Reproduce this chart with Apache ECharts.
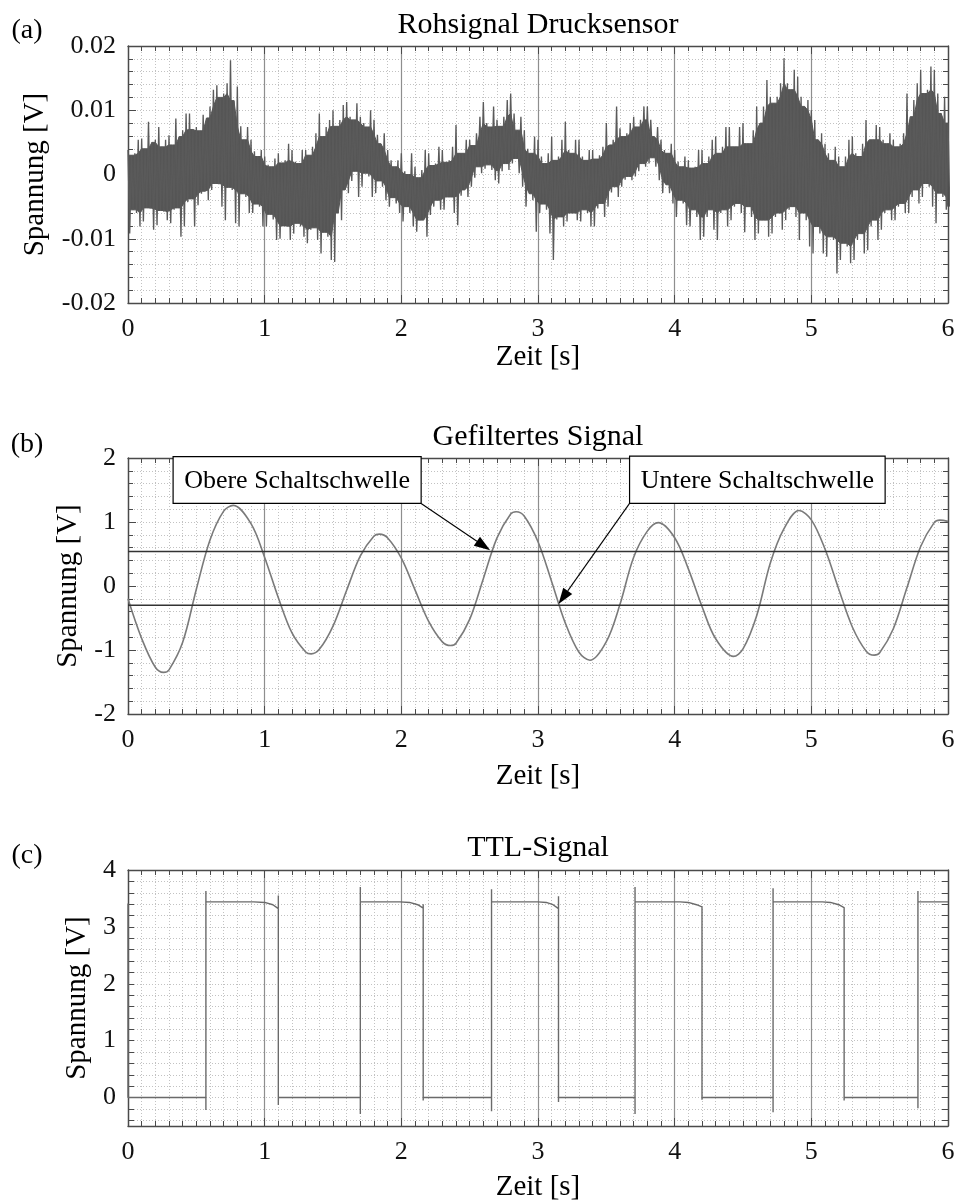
<!DOCTYPE html>
<html><head><meta charset="utf-8">
<script src="https://cdn.jsdelivr.net/npm/echarts@6/dist/echarts.min.js"></script>
<style>html,body{margin:0;padding:0;background:#fff}#c{width:957px;height:1201px}</style>
</head><body><div id="c"></div>
<script>
// ---------------- data ----------------
// (a) raw pressure sensor signal: envelope samples (mV), one every rawStep seconds
const rawStep = 0.025;
const rawUpper = [
3.8,3.0, 3.3,5.4, 5.6,4.0, 8.2,5.0, 5.4,7.4, 4.3,5.4, 6.1,4.6, 8.7,5.9, 6.9,9.5, 9.5,7.0,
7.4,6.8, 9.3,8.8, 10.6,13.2, 13.9,12.0, 12.6,14.2, 17.8,11.5, 13.7,7.5, 5.4,7.4, 5.4,3.6, 2.8,3.8,
2.8,1.5, 1.2,2.5, 3.3,1.8, 2.2,4.8, 3.8,2.0, 1.7,3.8, 3.8,3.0, 4.3,6.4, 9.5,5.9, 7.4,8.5,
10.0,7.5, 8.5,10.8, 11.3,9.0, 8.5,11.1, 9.0,8.0, 7.4,10.0, 8.5,6.2, 4.8,6.4, 3.8,2.2, 1.2,2.2,
3.3,0.5, 0.0,3.3, 1.2,-0.5, 0.7,3.8, 3.3,1.4, 1.7,4.3, 3.8,1.9, 2.2,4.3, 7.7,3.3, 3.3,5.4,
5.4,4.5, 6.4,9.0, 11.3,8.0, 7.4,10.6, 8.5,7.5, 9.0,11.6, 12.6,9.5, 6.9,9.0, 6.9,4.0, 3.3,5.9,
5.4,2.8, 1.7,3.3, 5.9,2.2, 2.8,5.4, 8.2,3.8, 3.3,5.4, 5.4,2.8, 2.2,3.8, 3.8,2.4, 3.0,4.3,
8.0,4.6, 5.4,10.6, 7.2,5.9, 6.4,8.0, 9.0,7.4, 8.5,10.6, 10.6,8.5, 5.9,7.4, 5.4,3.8, 3.3,4.8,
3.8,2.0, 1.2,2.8, 2.2,1.0, 1.2,3.8, 3.8,1.7, 2.8,5.4, 5.9,3.3, 4.3,7.4, 7.4,4.3, 4.3,7.4,
8.0,4.8, 4.8,6.9, 10.6,8.0, 10.6,14.7, 12.1,11.1, 12.1,14.2, 18.1,14.2, 13.2,16.3, 15.2,12.1, 10.6,11.6,
10.0,8.5, 5.4,6.4, 4.8,3.3, 2.2,4.3, 2.8,1.2, 2.8,5.4, 5.9,3.3, 2.8,4.8, 8.5,5.4, 5.4,7.7,
7.4,5.4, 4.8,6.4, 5.4,4.3, 4.8,6.4, 12.6,9.0, 11.6,14.2, 16.3,12.6, 13.2,16.8, 16.3,12.6, 9.5,12.1,
8.0];
const rawLower = [
-9.2,-5.5, -6.0,-8.1, -7.3,-5.2, -5.3,-8.6, -7.9,-5.6, -5.8,-7.1, -7.6,-5.5, -5.2,-9.7, -8.1,-4.3, -3.8,-8.1,
-4.8,-3.0, -2.6,-4.0, -2.4,-1.4, -1.5,-5.0, -7.1,-2.0, -2.4,-7.6, -8.1,-3.0, -3.5,-6.0, -6.0,-4.6, -5.0,-8.1,
-8.1,-6.2, -7.0,-10.2, -10.0,-8.0, -8.1,-10.2, -9.2,-7.6, -8.1,-9.7, -10.7,-8.6, -8.3,-10.2, -12.3,-9.0, -9.7,-13.3,
-13.6,-6.0, -7.1,-2.4, -2.9,-1.0, 0.5,-3.5, -1.9,0.2, -0.3,-3.5, -2.9,-1.0, -1.9,-4.0, -5.0,-3.6, -4.5,-6.0,
-7.3,-5.0, -6.0,-8.1, -8.9,-7.1, -7.1,-9.7, -6.3,-5.0, -4.0,-5.5, -5.5,-3.5, -3.5,-6.0, -7.9,-3.3, -2.4,-3.5,
-1.9,-0.5, 1.2,0.2, 0.9,1.5, 0.7,-0.9, -1.4,0.5, 1.7,0.7, 1.7,2.5, 0.2,-1.9, -5.0,-3.0, -4.0,-8.9,
-6.0,-4.6, -5.5,-9.2, -13.3,-7.0, -6.6,-8.1, -7.3,-6.0, -6.0,-7.1, -7.3,-5.5, -6.0,-8.1, -8.1,-5.3, -4.5,-6.6,
-5.0,-2.8, -1.9,-3.5, -1.9,-0.8, -0.3,-0.9, -0.3,0.5, 1.7,1.2, 1.7,2.6, 1.2,-0.9, -2.9,-1.6, -2.9,-4.5,
-6.6,-4.0, -4.5,-7.9, -8.1,-5.5, -6.6,-10.2, -9.7,-6.6, -5.5,-8.6, -10.2,-6.0, -5.5,-8.1, -7.1,-5.0, -4.5,-6.0,
-9.0,-5.0, -6.6,-10.2, -9.2,-7.1, -7.1,-9.7, -9.2,-6.6, -6.0,-8.6, -7.1,-5.5, -5.0,-6.6, -10.2,-6.0, -7.1,-11.2,
-12.3,-8.1, -9.2,-12.3, -12.8,-9.7, -10.2,-15.4, -13.3,-10.7, -11.2,-13.8, -13.3,-10.2, -9.2,-12.3, -11.8,-8.1, -7.1,-10.2,
-8.6,-6.0, -5.5,-7.1, -7.1,-5.0, -4.5,-6.0, -6.0,-3.5, -2.4,-4.5, -3.5,-1.4, -1.9,-5.0, -7.6,-2.9, -3.5,-5.5,
-5.0];

// (b) filtered signal: read points (s, V)
const filtT = [0, 0.1, 0.2, 0.26, 0.3, 0.4, 0.5, 0.6, 0.7, 0.77, 0.9, 1.0, 1.1, 1.2, 1.3, 1.34, 1.4, 1.5, 1.6, 1.7, 1.8, 1.84, 1.9, 2.0,
  2.1, 2.2, 2.3, 2.36, 2.4, 2.5, 2.6, 2.7, 2.8, 2.84, 2.9, 3.0, 3.1, 3.2, 3.3, 3.38, 3.5, 3.6, 3.7, 3.8, 3.88, 4.0,
  4.1, 4.2, 4.3, 4.43, 4.5, 4.6, 4.7, 4.8, 4.91, 5.0, 5.1, 5.2, 5.3, 5.4, 5.46, 5.5, 5.6, 5.7, 5.8, 5.9, 5.94, 6.0];
const filtV = [-0.2, -0.82, -1.27, -1.35, -1.31, -0.88, -0.05, 0.72, 1.17, 1.26, 0.975, 0.446, -0.184, -0.733, -1.03, -1.06, -0.99, -0.626, -0.066, 0.47, 0.78, 0.81, 0.75, 0.434,
  -0.06, -0.554, -0.873, -0.93, -0.894, -0.521, 0.115, 0.751, 1.124, 1.16, 1.09, 0.692, 0.068, -0.58, -1.036, -1.16, -0.869, -0.286, 0.45, 0.857, 0.99, 0.754,
  0.268, -0.32, -0.825, -1.10, -0.983, -0.464, 0.36, 0.896, 1.18, 1.034, 0.577, -0.046, -0.64, -1.014, -1.08, -1.044, -0.668, -0.025, 0.617, 0.994, 1.03, 1.01];
const thresholds = [0.54, -0.3];
const thresholdNames = ['Obere Schaltschwelle', 'Untere Schaltschwelle'];

// (c) TTL signal: path points (s, V)
const ttlT = [0, 0, 0.57, 0.57, 0.57, 0.57,
  0.92, 1.00, 1.06, 1.10, 1.10, 1.10, 1.10,
  1.70, 1.70, 1.70, 1.70,
  1.99, 2.06, 2.12, 2.16, 2.16, 2.16, 2.16,
  2.66, 2.66, 2.66, 2.66,
  3.00, 3.06, 3.11, 3.15, 3.15, 3.15, 3.15,
  3.71, 3.71, 3.71, 3.71,
  4.04, 4.10, 4.16, 4.20, 4.20, 4.20, 4.20,
  4.72, 4.72, 4.72, 4.72,
  5.08, 5.14, 5.20, 5.24, 5.24, 5.24, 5.24,
  5.78, 5.78, 5.78, 5.78, 6.0];
const ttlV = [3.41, 0, 0, -0.22, 3.63, 3.44,
  3.44, 3.43, 3.39, 3.32, 3.55, -0.13, 0,
  0, -0.29, 3.70, 3.44,
  3.44, 3.43, 3.39, 3.33, 3.40, -0.05, 0,
  0, -0.24, 3.66, 3.44,
  3.44, 3.43, 3.39, 3.32, 3.54, -0.08, 0,
  0, -0.29, 3.70, 3.44,
  3.44, 3.43, 3.39, 3.35, 3.38, -0.04, 0,
  0, -0.26, 3.68, 3.44,
  3.44, 3.43, 3.39, 3.34, 3.36, -0.05, 0,
  0, -0.19, 3.63, 3.44, 3.44];

const panelLetters = ['(a)', '(b)', '(c)'];
const panelTitles = ['Rohsignal Drucksensor', 'Gefiltertes Signal', 'TTL-Signal'];
const xName = 'Zeit [s]';
const yName = 'Spannung [V]';
const cTickValues = [-0.4,-0.2,0,0.2,0.4,0.6,0.8,1,1.2,1.4,1.6,1.8,2,2.2,2.4,2.6,2.8,3,3.2,3.4,3.6,3.8,4];
const cLabelValues = [0, 1, 2, 3, 4];

// ---------------- build ----------------
const FONT = '"Liberation Serif","Times New Roman",serif';
const AX = '#4a4a4a';
const DOT = {color: '#c2c2c2', type: [1, 2], width: 1};
const RAW_COLOR = '#555555';

const rawZig = [];
for (let i = 0; i < rawUpper.length; i++) {
  const t = i * rawStep, h = rawStep / 2;
  rawZig.push([t, rawUpper[i] / 1000], [t + h, rawLower[i] / 1000]);
}
const filtData = filtT.map((t, i) => [t, filtV[i]]);
const ttlData = ttlT.map((t, i) => [t, ttlV[i]]);

const grids = [
  {left: 128, top: 46, width: 820, height: 257},
  {left: 128, top: 458, width: 820, height: 256},
  {left: 128, top: 870, width: 820, height: 256}
];

const xAxis = [], yAxis = [];
grids.forEach((g, gi) => {
  const base = {
    type: 'value', gridIndex: gi, min: 0, max: 6, interval: 1,
    axisLine: {show: true, onZero: false, lineStyle: {color: AX, width: 1.4}},
    axisTick: {show: true, inside: true, length: 8, lineStyle: {color: AX, width: 1}},
    minorTick: {show: true, splitNumber: 10, length: 5, lineStyle: {color: AX, width: 1}}
  };
  xAxis.push(Object.assign({}, base, {
    position: 'bottom',
    axisLabel: {show: true, margin: 13, fontFamily: FONT, fontSize: 26, color: '#111', formatter: v => String(Math.round(v))},
    splitLine: {show: true, lineStyle: {color: '#8e8e8e', width: 1.2}},
    minorSplitLine: {show: true, lineStyle: DOT}
  }));
  xAxis.push(Object.assign({}, base, {
    position: 'top', axisLabel: {show: false}, splitLine: {show: false}, minorSplitLine: {show: false}
  }));
});

function yPair(gi, cfg) {
  const common = {
    type: 'value', gridIndex: gi,
    axisLine: {show: true, onZero: false, lineStyle: {color: AX, width: 1.4}}
  };
  const tick = Object.assign({show: true, inside: true, length: cfg.tickLen || 8, lineStyle: {color: AX}}, cfg.tickExtra || {});
  const minor = cfg.minor ? {show: true, splitNumber: cfg.minor, length: 5, lineStyle: {color: AX}} : {show: false};
  yAxis.push(Object.assign({}, common, cfg.scale, {
    position: 'left', axisTick: tick, minorTick: minor,
    axisLabel: Object.assign({show: true, margin: 12, fontFamily: FONT, fontSize: 26, color: '#111', formatter: cfg.fmt}, cfg.labelExtra || {}),
    splitLine: {show: true, lineStyle: DOT},
    minorSplitLine: cfg.minor ? {show: true, lineStyle: DOT} : {show: false}
  }));
  yAxis.push(Object.assign({}, common, cfg.scale, {
    position: 'right', axisTick: tick, minorTick: minor,
    axisLabel: {show: false}, splitLine: {show: false}, minorSplitLine: {show: false}
  }));
}
yPair(0, {scale: {min: -0.02, max: 0.02, interval: 0.01}, minor: 5,
  fmt: v => (Math.abs(v) < 1e-9 ? '0' : v.toFixed(2))});
yPair(1, {scale: {min: -2, max: 2, interval: 1}, minor: 5,
  fmt: v => String(Math.round(v))});
yPair(2, {scale: {min: -0.5, max: 4}, tickLen: 6,
  tickExtra: {customValues: cTickValues}, labelExtra: {customValues: cLabelValues},
  fmt: v => String(Math.round(v))});

// annotation layout (data coordinates of panel b)
const annot = [
  {box: [0.33, 2.02, 2.145, 1.29], from: [2.145, 1.29], tip: [2.65, 0.56]},
  {box: [3.67, 2.03, 5.54, 1.29], from: [3.67, 1.29], tip: [3.15, -0.28]}
];

const series = [
  // dense core of the raw signal: the region every neighbouring stroke covers
  {type: 'custom', xAxisIndex: 0, yAxisIndex: 0, coordinateSystem: 'cartesian2d', clip: true, z: 2,
   data: [[0, 0]],
   renderItem: function (params, api) {
     const n = rawUpper.length, h = rawStep / 2, top = [], bot = [];
     for (let i = 0; i < n; i++) {
       const a = Math.max(0, i - 1), b = Math.min(n - 1, i + 1);
       const u = Math.min(rawUpper[a], rawUpper[i], rawUpper[b]);
       const l = Math.max(rawLower[a], rawLower[i], rawLower[b]);
       top.push(api.coord([i * rawStep, u / 1000]));
       bot.push(api.coord([Math.min(6, i * rawStep + h), l / 1000]));
     }
     const pts = top.concat(bot.reverse());
     return {type: 'polygon', shape: {points: pts, smooth: 0}, style: {fill: RAW_COLOR, stroke: RAW_COLOR, lineWidth: 1}};
   }},
  // the noise strokes themselves (spikes beyond the core)
  {type: 'line', xAxisIndex: 0, yAxisIndex: 0, data: rawZig, showSymbol: false, symbol: 'none',
   lineStyle: {color: '#5a5a5a', width: 1.35}, sampling: null, z: 3},
  {type: 'line', xAxisIndex: 2, yAxisIndex: 2, data: filtData, smooth: 0.35, showSymbol: false, symbol: 'none',
   lineStyle: {color: '#7a7a7a', width: 1.6}, z: 3},
  {type: 'line', xAxisIndex: 2, yAxisIndex: 2, data: [[0, thresholds[0]], [6, thresholds[0]]], showSymbol: false, symbol: 'none',
   lineStyle: {color: '#333', width: 1.6}, z: 4},
  {type: 'line', xAxisIndex: 2, yAxisIndex: 2, data: [[0, thresholds[1]], [6, thresholds[1]]], showSymbol: false, symbol: 'none',
   lineStyle: {color: '#333', width: 1.6}, z: 4},
  {type: 'custom', xAxisIndex: 2, yAxisIndex: 2, coordinateSystem: 'cartesian2d', clip: false, z: 10,
   data: annot.map(a => [a.tip[0], a.tip[1]]),
   renderItem: function (params, api) {
     const a = annot[params.dataIndex];
     const p0 = api.coord([a.box[0], a.box[1]]);
     const p1 = api.coord([a.box[2], a.box[3]]);
     const s = api.coord(a.from);
     const tp = api.coord(a.tip);
     const dx = tp[0] - s[0], dy = tp[1] - s[1];
     const len = Math.sqrt(dx * dx + dy * dy);
     const ux = dx / len, uy = dy / len;
     const L = 16, W = 11;
     const bx = tp[0] - ux * L, by = tp[1] - uy * L;
     const nx = -uy, ny = ux;
     return {type: 'group', children: [
       {type: 'line', shape: {x1: s[0], y1: s[1], x2: bx, y2: by}, style: {stroke: '#000', lineWidth: 1.1}},
       {type: 'polygon', shape: {points: [[tp[0], tp[1]], [bx + nx * W / 2, by + ny * W / 2], [bx - nx * W / 2, by - ny * W / 2]]},
        style: {fill: '#000'}},
       {type: 'rect', shape: {x: p0[0], y: p0[1], width: p1[0] - p0[0], height: p1[1] - p0[1]},
        style: {fill: '#fff', stroke: '#000', lineWidth: 1.2}},
       {type: 'text', x: (p0[0] + p1[0]) / 2, y: (p0[1] + p1[1]) / 2 + 1,
        style: {text: thresholdNames[params.dataIndex], font: '26px ' + FONT, fill: '#000',
                align: 'center', verticalAlign: 'middle', textAlign: 'center', textVerticalAlign: 'middle'}}
     ]};
   }},
  {type: 'line', xAxisIndex: 4, yAxisIndex: 4, data: ttlData, showSymbol: false, symbol: 'none',
   lineStyle: {color: '#6a6a6a', width: 1.4}, z: 3}
];

function txt(str, x, y, size, rot) {
  return {type: 'text', x: x, y: y, rotation: rot || 0, z: 20,
    style: {text: str, font: size + 'px ' + FONT, fill: '#000',
      align: 'center', verticalAlign: 'middle', textAlign: 'center', textVerticalAlign: 'middle'}};
}
const letterY = [31, 445, 856];
const titleY = [25, 437, 848];
const xNameY = [357, 776, 1187];
const yNamePos = [[35, 174.5], [68, 586], [77, 998]];
const graphics = [];
for (let i = 0; i < 3; i++) {
  graphics.push(txt(panelLetters[i], 27, letterY[i], 28));
  graphics.push(txt(panelTitles[i], 538, titleY[i], 30));
  graphics.push(txt(xName, 538, xNameY[i], 29));
  graphics.push(txt(yName, yNamePos[i][0], yNamePos[i][1], 29, Math.PI / 2));
}

const chart = echarts.init(document.getElementById('c'), null, {renderer: 'canvas'});
chart.setOption({
  animation: false,
  backgroundColor: '#fff',
  grid: grids.map(g => Object.assign({outerBoundsMode: 'none', containLabel: false}, g)),
  xAxis: xAxis,
  yAxis: yAxis,
  series: series,
  graphic: {elements: graphics}
});
</script></body></html>
